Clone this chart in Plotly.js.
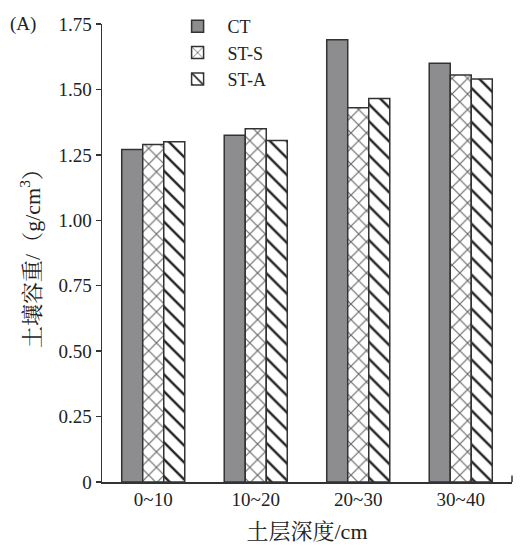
<!DOCTYPE html>
<html><head><meta charset="utf-8">
<script src="https://cdn.plot.ly/plotly-3.0.1.min.js"></script>
<style>html,body{margin:0;padding:0;background:#fff}#c{width:520px;height:548px}</style>
</head><body><div id="c"></div>
<script>
var categories = ['0~10', '10~20', '20~30', '30~40'];
var seriesNames = ['CT', 'ST-S', 'ST-A'];
var ctValues = [1.27, 1.325, 1.69, 1.60];
var stsValues = [1.29, 1.35, 1.43, 1.555];
var staValues = [1.30, 1.305, 1.465, 1.54];
var yTickVals = [0, 0.25, 0.5, 0.75, 1.0, 1.25, 1.5, 1.75];
var yTickText = ['0', '0.25', '0.50', '0.75', '1.00', '1.25', '1.50', '1.75'];

var serif = '"Liberation Serif", "Times New Roman", "Noto Serif CJK SC", "Noto Sans CJK SC", serif';
var txt = '#222';
var lineCol = '#333';
var traces = [
  {type:'bar', name:seriesNames[0], x:categories, y:ctValues,
   marker:{color:'#8d8d8f', line:{color:lineCol, width:1.5}}},
  {type:'bar', name:seriesNames[1], x:categories, y:stsValues,
   marker:{color:'#ffffff', line:{color:lineCol, width:1.5},
     pattern:{shape:'x', fgcolor:'#666', bgcolor:'#ffffff', size:11, solidity:0.2}}},
  {type:'bar', name:seriesNames[2], x:categories, y:staValues,
   marker:{color:'#ffffff', line:{color:lineCol, width:1.5},
     pattern:{shape:'\\', fgcolor:'#222', bgcolor:'#ffffff', size:12, solidity:0.2}}}
];
var layout = {
  width:520, height:548,
  margin:{l:102, r:8, t:19, b:66},
  paper_bgcolor:'#fff', plot_bgcolor:'#fff',
  barmode:'group', bargap:0.385, bargroupgap:0,
  font:{family:serif, size:19, color:txt},
  showlegend:true,
  legend:{x:0.16, y:1.035, xanchor:'left', yanchor:'top', bgcolor:'rgba(0,0,0,0)',
    font:{family:serif, size:18, color:txt}, itemwidth:50, tracegroupgap:6},
  xaxis:{range:[-0.5, 3.5], showline:true, linecolor:lineCol, linewidth:1.5,
    ticks:'', tickfont:{family:serif, size:19, color:txt}, showgrid:false, zeroline:false,
    title:{text:'土层深度/cm', font:{family:serif, size:22, color:txt}, standoff:14}},
  yaxis:{range:[0, 1.75], showline:true, linecolor:lineCol, linewidth:1.5,
    ticks:'outside', ticklen:5, tickwidth:1.5, tickcolor:lineCol,
    tickvals:yTickVals, ticktext:yTickText, tickfont:{family:serif, size:19, color:txt},
    showgrid:false, zeroline:false,
    title:{text:'土壤容重/（g/cm<sup>3</sup>）', font:{family:serif, size:22, color:txt}, standoff:12}},
  shapes:[{type:'line', xref:'paper', yref:'paper', x0:1, x1:1, y0:0, y1:0.014,
    line:{color:lineCol, width:1.5}}],
  annotations:[{text:'(A)', xref:'paper', yref:'paper', x:-0.23, y:1.0, xanchor:'left', yanchor:'middle',
    showarrow:false, font:{family:serif, size:19, color:txt}}]
};
Plotly.newPlot('c', traces, layout, {displayModeBar:false, staticPlot:true});
</script></body></html>
